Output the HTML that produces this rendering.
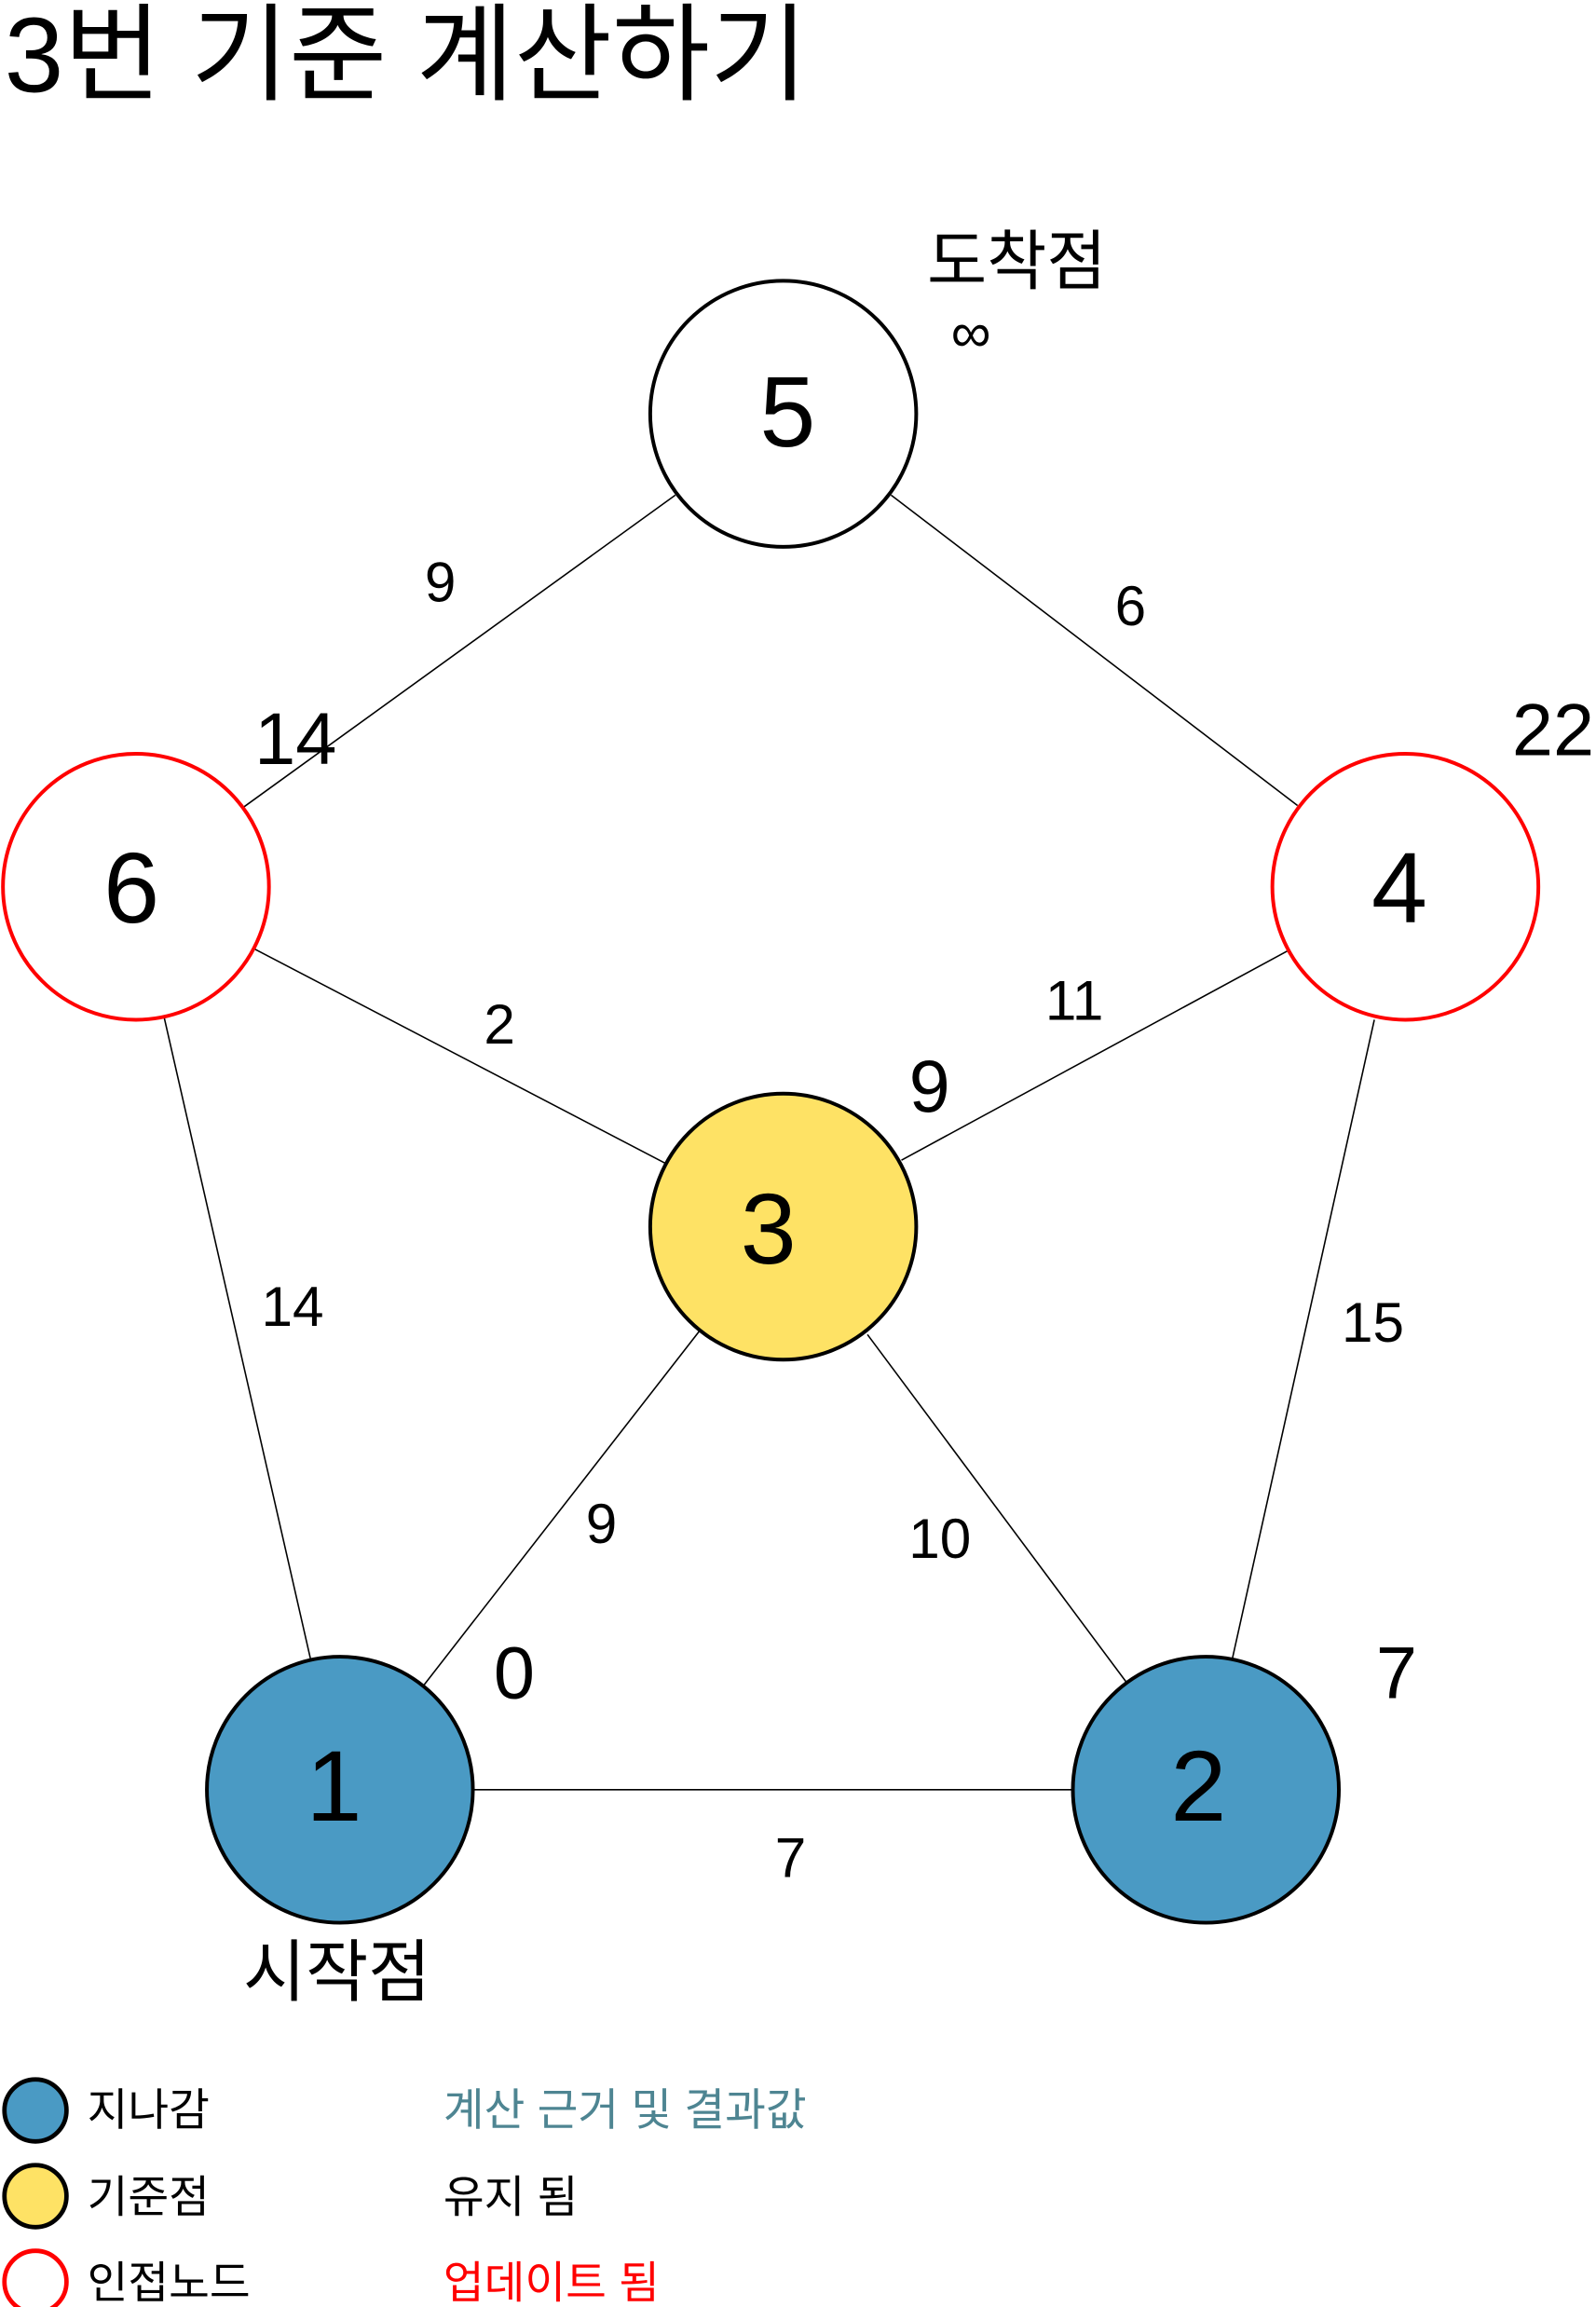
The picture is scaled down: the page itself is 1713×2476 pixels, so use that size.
<!DOCTYPE html>
<html><head><meta charset="utf-8"><style>
html,body{margin:0;padding:0;background:#fff;}
svg{display:block;}
text{font-family:"Liberation Sans","Noto Sans CJK KR",sans-serif;}
</style></head><body>
<svg width="1713" height="2476" viewBox="0 0 1080 1561" xmlns="http://www.w3.org/2000/svg">
<text x="3" y="62" font-size="72">3번 기준 계산하기</text>
<g stroke="#000" stroke-width="1">
<line x1="457" y1="335" x2="165" y2="546"/>
<line x1="603" y1="335" x2="878" y2="545"/>
<line x1="172" y1="642" x2="450" y2="787"/>
<line x1="872" y1="643" x2="610" y2="785"/>
<line x1="111" y1="688" x2="210" y2="1122"/>
<line x1="930" y1="690" x2="834" y2="1122"/>
<line x1="473" y1="901" x2="287" y2="1140"/>
<line x1="587" y1="903" x2="762" y2="1138"/>
<line x1="320" y1="1211" x2="726" y2="1211"/>
</g>
<circle cx="530" cy="280" r="90" fill="#fff" stroke="#000" stroke-width="2.5"/>
<circle cx="92" cy="600" r="90" fill="#fff" stroke="#f00" stroke-width="2.5"/>
<circle cx="951" cy="600" r="90" fill="#fff" stroke="#f00" stroke-width="2.5"/>
<circle cx="530" cy="830" r="90" fill="#FEE265" stroke="#000" stroke-width="2.5"/>
<circle cx="230" cy="1211" r="90" fill="#4A9AC4" stroke="#000" stroke-width="2.5"/>
<circle cx="816" cy="1211" r="90" fill="#4A9AC4" stroke="#000" stroke-width="2.5"/>
<g font-size="68" text-anchor="middle">
<text x="533" y="302">5</text>
<text x="89" y="624">6</text>
<text x="947" y="624">4</text>
<text x="520" y="855">3</text>
<text x="226" y="1232">1</text>
<text x="811" y="1232">2</text>
</g>
<g font-size="38" text-anchor="middle">
<text x="298" y="407">9</text>
<text x="765" y="423">6</text>
<text x="338" y="706">2</text>
<text x="727" y="690">11</text>
<text x="198" y="897">14</text>
<text x="929" y="908">15</text>
<text x="407" y="1044">9</text>
<text x="636" y="1054">10</text>
<text x="535" y="1270">7</text>
</g>
<g font-size="50" text-anchor="middle">
<text x="200" y="517">14</text>
<text x="1051" y="511">22</text>
<text x="629" y="752">9</text>
<text x="348" y="1149">0</text>
<text x="945" y="1149">7</text>
</g>
<text x="228" y="1350" font-size="46" text-anchor="middle">시작점</text>
<text x="688" y="192" font-size="44" text-anchor="middle">도착점</text>
<text x="657" y="238" font-size="38" text-anchor="middle">∞</text>
<circle cx="24" cy="1428" r="21" fill="#4A9AC4" stroke="#000" stroke-width="3"/>
<circle cx="24" cy="1486" r="21" fill="#FEE265" stroke="#000" stroke-width="3"/>
<circle cx="24" cy="1544" r="21" fill="#fff" stroke="#f00" stroke-width="3"/>
<g font-size="30">
<text x="59" y="1438">지나감</text>
<text x="59" y="1497">기준점</text>
<text x="59" y="1555">인접노드</text>
<text x="300" y="1438" fill="#4E8592">계산 근거 및 결과값</text>
<text x="300" y="1497">유지 됨</text>
<text x="300" y="1555" fill="#f00">업데이트 됨</text>
</g>
</svg>
</body></html>
